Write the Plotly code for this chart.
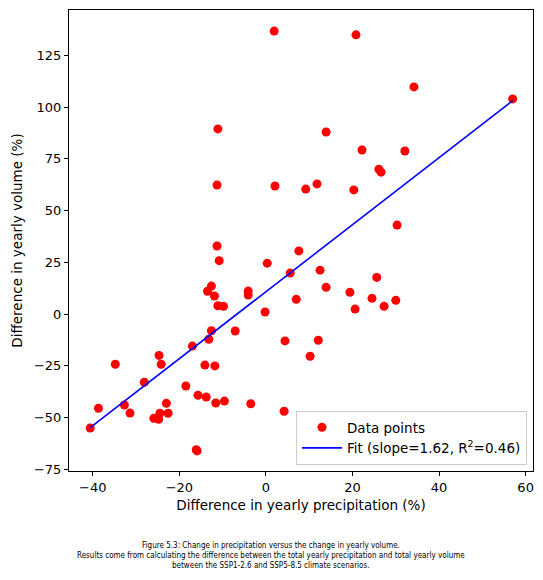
import numpy as np
import plotly.graph_objects as go

precip = [1.9, 20.8, 34.2, 57.0, -11.1, 13.9, 22.2, 32.1, -11.3, 2.1, 9.2, 11.8,
          26.1, 26.6, 20.3, 30.3, -11.3, 7.6, -10.8, 0.3, 5.6, 12.5, 13.9, 7.0,
          -12.6, -13.5, -11.9, -11.1, -9.8, -4.1, -4.1, -0.2, -7.1, -12.6, -13.2,
          -17.0, -24.7, -24.2, -34.8, 4.4, 12.1, 10.2, -14.1, -11.8, -28.1, -18.5,
          -32.7, -38.7, -31.4, -23.0, -22.6, -24.5, -25.9, -24.8, -15.7, -13.8,
          -11.6, -9.6, -3.5, 4.2, -40.6, -16.1, -15.9, 19.4, 20.6, 25.6, 24.5,
          27.3, 30.0]
volume = [136.8, 135.0, 109.8, 104.0, 89.5, 88.0, 79.3, 78.8, 62.4, 61.9, 60.4, 62.9,
          70.0, 68.6, 60.0, 43.0, 32.9, 30.5, 25.8, 24.6, 19.8, 21.2, 12.9, 7.1,
          13.5, 11.0, 8.7, 4.0, 3.7, 11.1, 9.2, 1.0, -8.2, -8.1, -12.2,
          -15.5, -20.0, -24.3, -24.3, -13.0, -12.7, -20.4, -24.7, -25.1, -33.0, -34.8,
          -44.0, -45.6, -47.9, -43.2, -48.0, -48.0, -50.4, -50.9, -39.3, -40.1,
          -43.0, -42.1, -43.4, -47.0, -55.1, -65.6, -66.2, 10.5, 2.4, 17.7, 7.6,
          3.7, 6.6]
fit_slope = 1.62
fit_intercept = 10.8
fit_r2 = 0.46
x_ticks = [-40, -20, 0, 20, 40, 60]
y_ticks = [-75, -50, -25, 0, 25, 50, 75, 100, 125]
caption = ["Figure 5.3: Change in precipitation versus the change in yearly volume.",
           "Results come from calculating the difference between the total yearly precipitation and total yearly volume",
           "between the SSP1-2.6 and SSP5-8.5 climate scenarios."]

fit_x = [min(precip), max(precip)]
fit_y = [fit_slope * v + fit_intercept for v in fit_x]

fig = go.Figure()
fig.add_trace(go.Scatter(x=precip, y=volume, mode="markers", name="Data points",
                         marker=dict(color="red", size=9, line=dict(width=0))))
fig.add_trace(go.Scatter(x=fit_x, y=fit_y, mode="lines",
                         name=f"Fit (slope={fit_slope:.2f}, R<sup>2</sup>={fit_r2:.2f})",
                         line=dict(color="blue", width=1.6)))

axis_common = dict(showgrid=False, zeroline=False, showline=True, linecolor="black",
                   linewidth=1, mirror=True, ticks="outside", ticklen=4, tickwidth=1,
                   tickcolor="black", tickfont=dict(size=13, color="black"))
fig.update_xaxes(range=[-45.5, 61.7], tickvals=x_ticks,
                 title=dict(text="Difference in yearly precipitation (%)", font=dict(size=13.5, color="black"), standoff=6),
                 **axis_common)
fig.update_yaxes(range=[-75.9, 147], tickvals=y_ticks,
                 title=dict(text="Difference in yearly volume (%)", font=dict(size=13.5, color="black"), standoff=8),
                 **axis_common)

annots = []
for i, line in enumerate(caption):
    annots.append(dict(text=line, xref="paper", yref="paper", x=0.435, y=0, yshift=-74 - 10 * i,
                       xanchor="center", yanchor="middle", showarrow=False,
                       font=dict(size=8, color="black", family="Liberation Sans Narrow, Arial Narrow, DejaVu Sans Condensed, sans-serif")))

fig.update_layout(
    width=543, height=580,
    margin=dict(l=69, r=10, t=10, b=109),
    plot_bgcolor="white", paper_bgcolor="white",
    font=dict(family="DejaVu Sans", color="black"),
    legend=dict(x=0.987, y=0.013, xanchor="right", yanchor="bottom",
                bgcolor="rgba(255,255,255,0.8)", bordercolor="#cccccc", borderwidth=1,
                font=dict(size=13.5, color="black"), tracegroupgap=2, itemwidth=40),
    annotations=annots,
)
fig.write_html("out.html")
